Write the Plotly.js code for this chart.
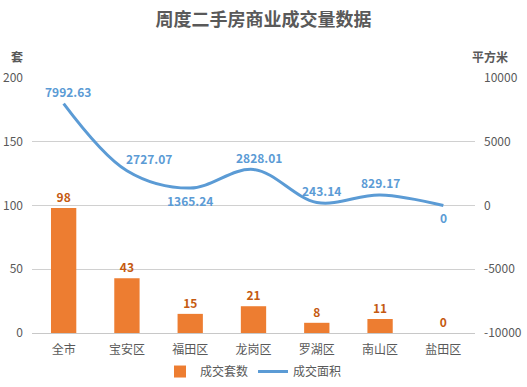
<!DOCTYPE html>
<html><head><meta charset="utf-8">
<script src="https://cdn.plot.ly/plotly-3.0.1.min.js"></script>
<style>html,body{margin:0;padding:0;background:#fff}#chart{width:527px;height:387px}</style>
</head><body><div id="chart"></div>
<script>
const categories = ['全市','宝安区','福田区','龙岗区','罗湖区','南山区','盐田区'];
const units = [98, 43, 15, 21, 8, 11, 0];
const area = [7992.63, 2727.07, 1365.24, 2828.01, 243.14, 829.17, 0];
const areaLabels = ['7992.63','2727.07','1365.24','2828.01','243.14','829.17','0'];
const areaLabelBelow = [false, false, true, false, false, false, true];
const leftTicks = [0, 50, 100, 150, 200];
const rightTicks = [-10000, -5000, 0, 5000, 10000];
const rightTickText = ['-10000', '-5000', '0', '5000', '10000'];

const font = "'Noto Sans CJK SC', 'Microsoft YaHei', sans-serif";
const traces = [
  {type:'bar', name:'成交套数', x:categories, y:units, marker:{color:'#ED7D31'}, width:0.4,
   text:units.map(String), textposition:'outside', cliponaxis:false,
   textfont:{color:'#C55A11', size:12, family:font, weight:'bold'}},
  {type:'scatter', mode:'lines', name:'成交面积', x:categories, y:area, yaxis:'y2',
   line:{color:'#5B9BD5', width:3, shape:'spline', smoothing:1}}
];
const lineAnn = categories.map((c, i) => ({
  x:c, y:area[i], xref:'x', yref:'y2', text:'<b>'+areaLabels[i]+'</b>', showarrow:false,
  xanchor:'center', yanchor:'middle',
  yshift: areaLabelBelow[i] ? -12 : 12,
  xshift: i === 1 ? 22 : (i === 0 ? 4 : (i === 3 ? 5 : (i === 4 ? 5 : 0))),
  font:{size:12, color:'#5B9BD5', family:font}
}));
const layout = {
  width:527, height:387,
  margin:{l:32, r:52, t:78, b:54, autoexpand:false},
  paper_bgcolor:'#fff', plot_bgcolor:'#fff',
  font:{family:font, color:'#595959', size:12},
  title:{text:'周度二手房商业成交量数据', x:0.5, xanchor:'center', y:0.95, yanchor:'middle',
         font:{size:18, color:'#595959', family:font, weight:'bold'}},
  showlegend:true,
  legend:{orientation:'h', x:0.5, xanchor:'center', yref:'container', y:0.04, yanchor:'middle', font:{size:12, color:'#595959'}},
  bargap:0.6,
  xaxis:{type:'category', showgrid:false, showline:false, zeroline:false, ticks:'', ticklabelstandoff:8, tickfont:{size:12, color:'#595959'}},
  yaxis:{range:[0,200], tickvals:leftTicks, showgrid:true, gridcolor:'#D0D0D0', gridwidth:1, zeroline:true, zerolinecolor:'#C8C8C8', zerolinewidth:1,
         showline:false, ticks:'', ticklabelstandoff:8, tickfont:{size:12, color:'#595959'}},
  yaxis2:{range:[-10000,10000], tickvals:rightTicks, ticktext:rightTickText, overlaying:'y', side:'right', showgrid:false, zeroline:false, showline:false,
          ticks:'', ticklabelstandoff:8, tickfont:{size:12, color:'#595959'}},
  annotations:[
    {text:'<b>套</b>', xref:'paper', yref:'paper', x:-0.034, y:1.085, xanchor:'center', yanchor:'middle', showarrow:false, font:{size:12, color:'#595959'}},
    {text:'<b>平方米</b>', xref:'paper', yref:'paper', x:1.034, y:1.085, xanchor:'center', yanchor:'middle', showarrow:false, font:{size:12, color:'#595959'}}
  ].concat(lineAnn)
};
Plotly.newPlot('chart', traces, layout, {displayModeBar:false, staticPlot:true});
</script></body></html>
